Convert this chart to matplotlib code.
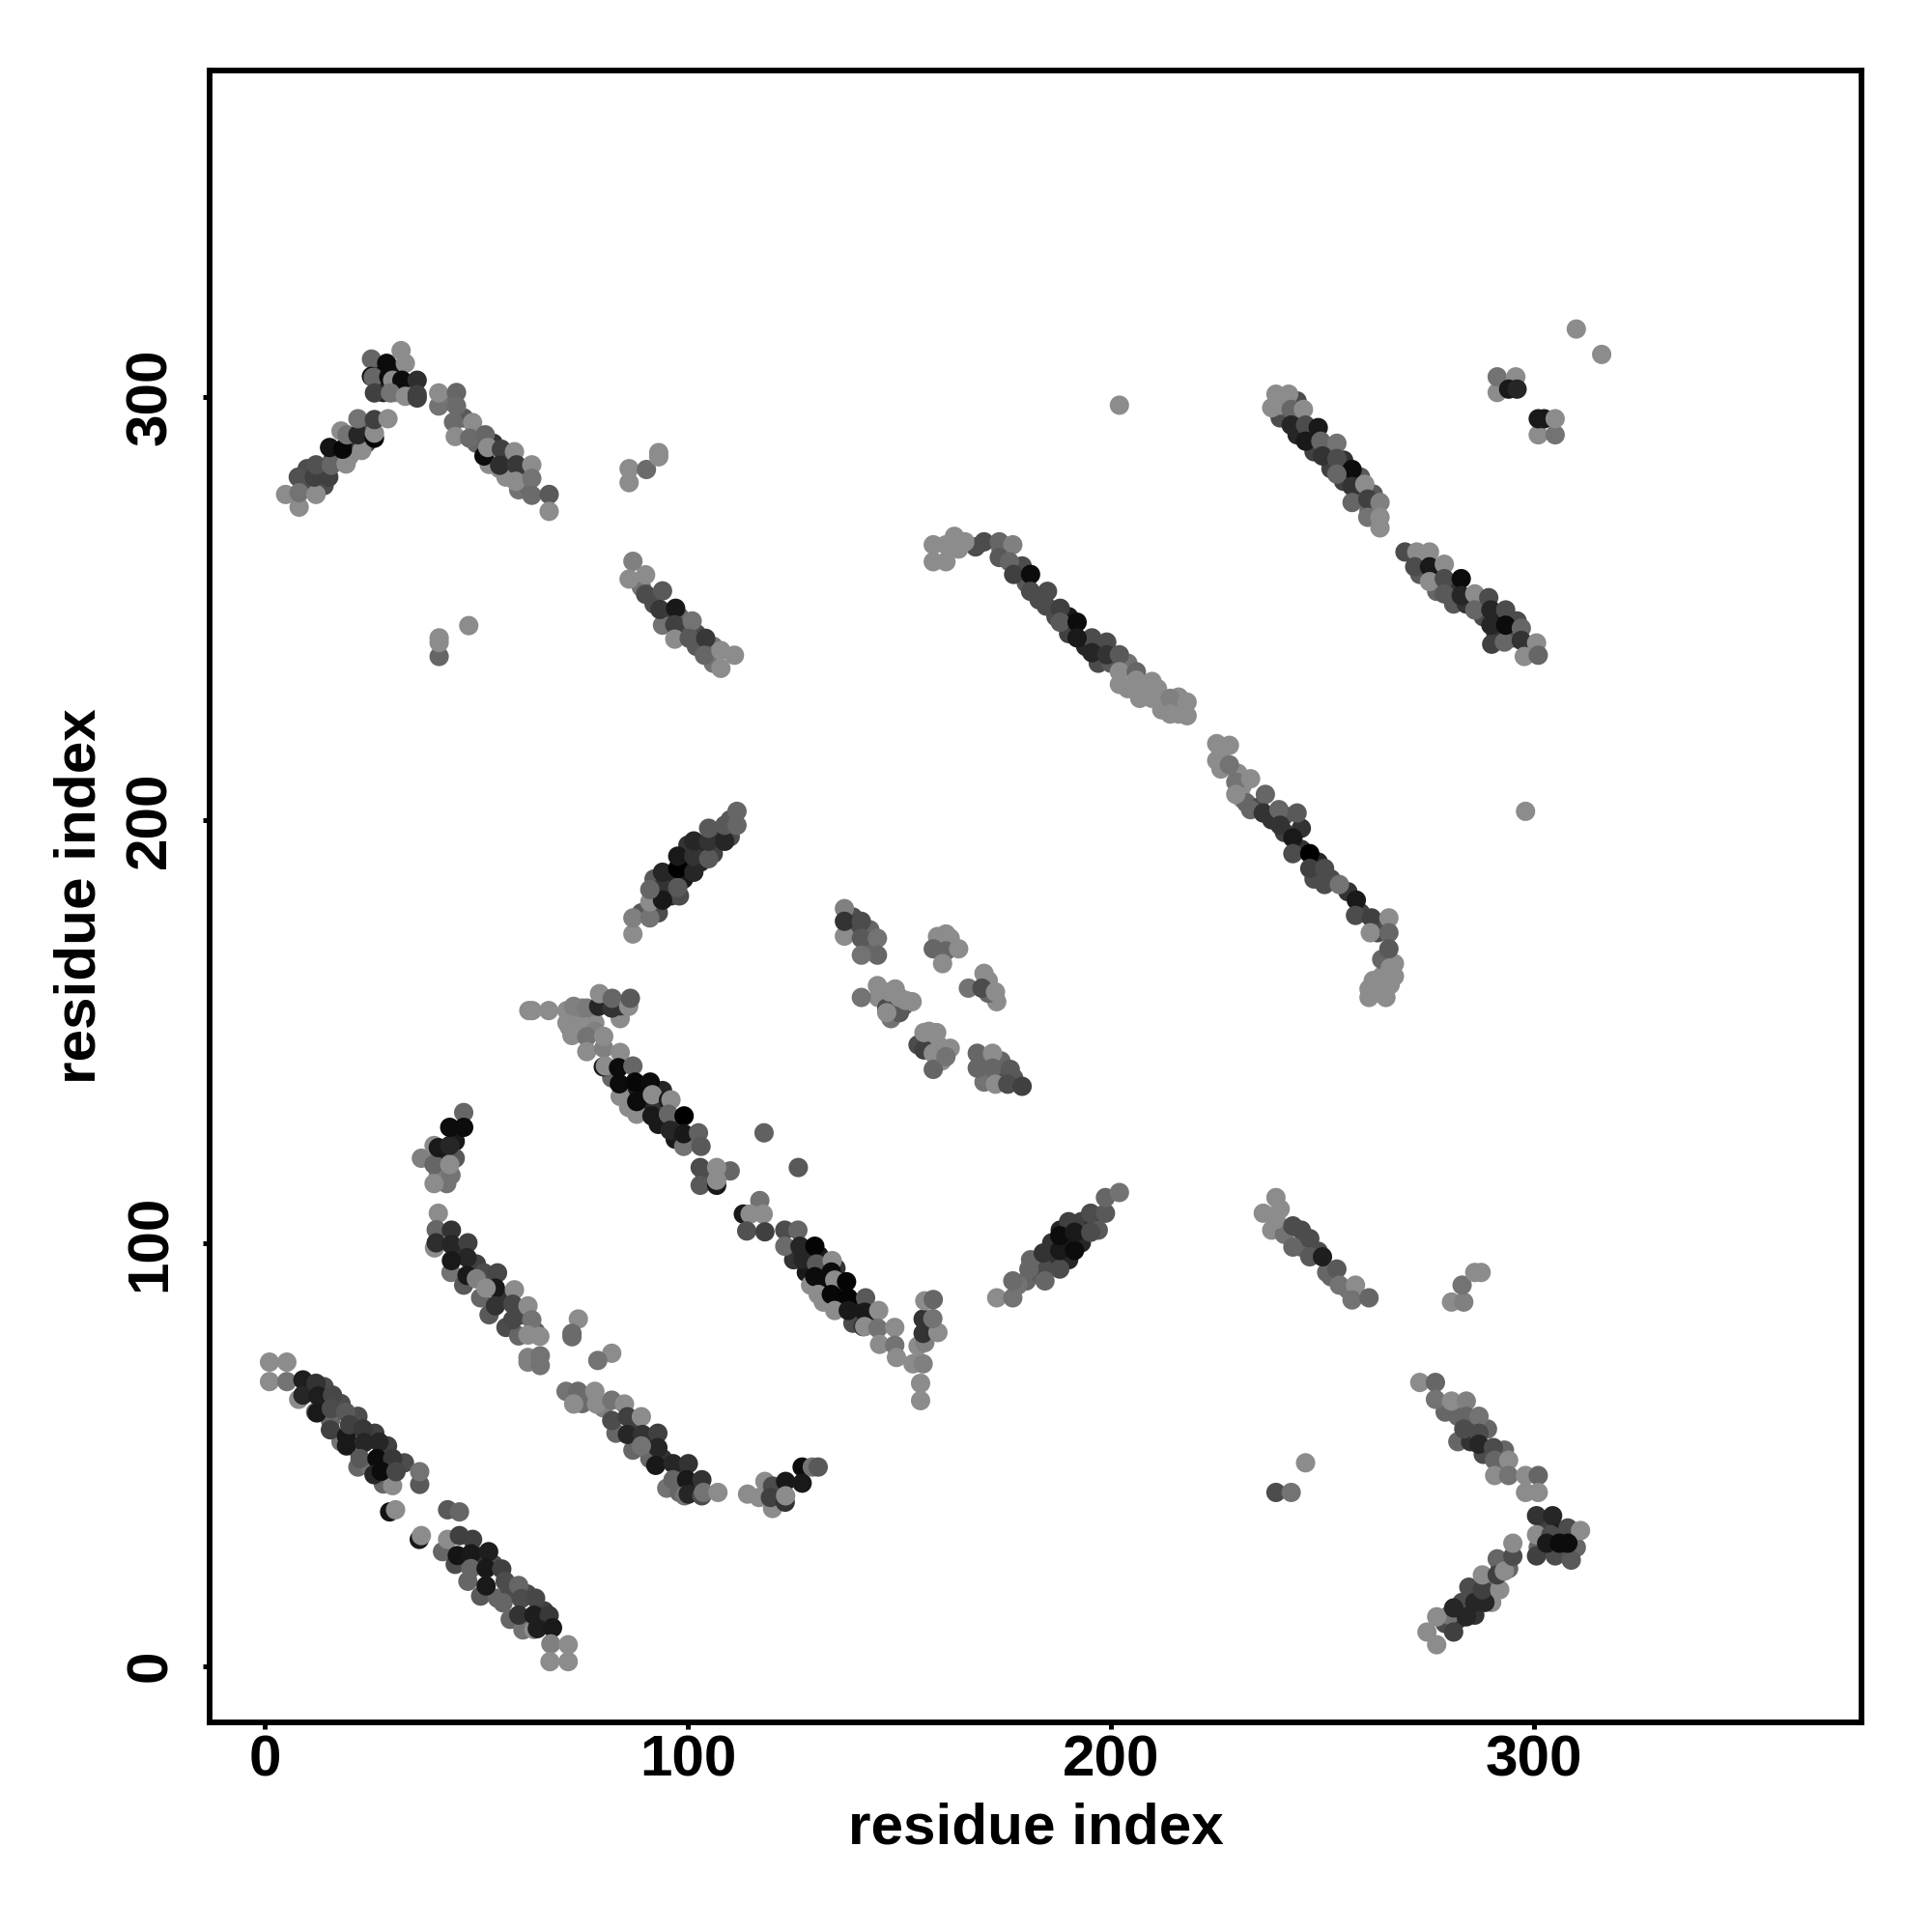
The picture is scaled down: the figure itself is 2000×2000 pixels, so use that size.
"""
Contact map, residue index against residue index
grey level of a point = strength of the contact
"""
import matplotlib
matplotlib.use("Agg")
import matplotlib.pyplot as plt
import numpy as np

L = 0.55  # the light grey that most band edges have

# every list holds (residue x, residue y, grey)
band_a = [(1.1,71.8,L),(5.2,71.8,L),(1.1,67.2,L),(5.2,67.2,.45),(8,63,L),(9,67.6,.12),(9,64,.15),(12.1,66.8,.2),
          (12.6,63.8,.12),(12.3,59.8,.1),(16,64,.28),(15.7,60.8,.3),(19.1,60,.35),(15.5,55.8,.25),(19.3,52,.1),
          (19.3,54.3,.1),(20,57,.25),(23.2,56,.22),(23.5,52.8,.15),(27,52.9,.15),(22.5,49,.35),(26.5,49,.05),
          (30.2,49,.22),(30.2,42.6,L),(25.8,45.2,.15),(27.5,46,.05),(31,45.9,.28),(36.6,42.9,.35),(36.6,45.9,.45),
          (29.5,36.4,.08),(30.9,36.9,L),(43.2,36.9,.35),(46,36.4,.4),(36.5,29.9,.1),(37,30.8,L),(43.2,29.9,L),
          (46,30.8,.25),(49.1,29.9,.25),(45.5,26.1,.08),(48.7,26.5,.1),(52.9,27,.12),(48.7,23,.4),(52.3,23,.1),
          (56,22.9,.25),(52.3,18.9,.1),(56.8,20,.3),(60,19,.4),(56.3,14.9,.4),(60.6,15.9,.3),(64,16,.28),(60,12,.2),
          (63.6,8.6,L),(63.6,12,.12),(67.2,11.9,.22),(64.4,8.8,.12),(68,9,.1),(67.6,5.2,.5),(71.7,5,L),(67.4,1,L),(71.7,1,L)]
fill_a = [(12,60,.45),(15.5,58,.4),(18,53,.45),(22,51,.45),(22,47,.4),(25,47,.45),(28,43,.4),(14,66,.3),(18,62,.3),
          (22,59,.3),(26,55,.25),(29,52,.25),(33,48,.3),(42,27,.4),(45,24,.3),(48,20,.4),(51,16.5,.35),(55,16,.4),
          (58,11,.4),(61,8.5,.45),(50,26,.2),(54,24,.3),(58,18,.3),(62,17,.3),(66,13,.25)]

band_b = [(41,107,L),(40.1,98.8,L),(40.5,103.1,.4),(44.1,103,.2),(40.5,100,.18),(44.1,99.6,.15),(48,100,.25),
          (47.8,96.5,.15),(44.1,95.8,.1),(47.8,92.3,.1),(51.8,92.9,.3),(55,92.9,.28),(50,91.5,.5),(54.5,89.3,.1),
          (59,88.9,L),(52.3,89.3,L),(54.5,85.1,.2),(58.6,85.5,.28),(62.2,85.1,L),(58.6,81.8,.28),(63.1,81.8,.45),
          (62.2,78.2,L),(65,77.9,L),(62.2,72.9,.5),(62.2,71.8,.5),(65.1,73.3,.45),(65.1,71,.45),
          (74.1,82,L),(72.6,78.6,.42),(72.6,77.8,.42),(82,73.9,L),(78.7,72.2,.45)]
fill_b = [(44,93,.45),(47,90,.35),(51,87,.4),(53,83,.35),(57,80,.3),(60,78,.4),(46,98,.2),(50,95,.25),(53,91,.2),
          (57,87,.2),(61,83,.3),(64,79,.35)]

band_c = [(71.2,64.9,.45),(74,64.9,.42),(73,61.9,L),(78,64.9,L),(78.4,61.9,L),(82,62.8,.45),(85,61.9,L),(82,58,.3),
          (85.7,58.9,.25),(89,58.9,L),(85.7,54.7,.15),(89.3,54.7,.2),(92.9,55,.25),(92.9,51.6,.15),(89,52,.45),
          (92.4,47.4,.1),(96.5,47.8,.15),(100.1,47.8,.2),(96.5,44,.4),(99.7,44,.1),(103.3,44,.2),(99.2,40.2,.45),
          (100.1,40.6,.15),(103.3,40.2,.3),(103.7,41,.45),(107.1,41,L)]
fill_c = [(83,55,.4),(87,51,.4),(91,49,.4),(95,42,.45),(98,41,.4),(87,57,.25),(91,53,.2),(94,49,.2),(98,46,.2),
          (102,42,.25),(75,62,.42),(80,61,.5)]

band_d = [(114.1,40.6,L),(118.2,43.6,L),(116.8,39.8,L),(120,37.2,L),(120,42.5,.3),(119.5,39.8,.25),(123.1,43.6,.1),
          (123,38.7,.2),(123.1,40.2,L),(127,47,.05),(127,43.2,.1),(129.4,47,.45),(130.8,47,.35)]

band_e = [(62.4,154.9,L),(63.2,154.9,L),(67.1,154.9,L),(71.4,154.9,L),(71.4,152,L),(73,155.9,.5),(75,155.5,.5),
          (76.1,155.5,.48),(72.6,149,L),(76.1,148.7,.45),(76.1,145.2,L),(80.1,146,.5),(80.1,148.8,L),(78.9,155.9,.15),
          (79.1,158.9,L),(82,155.5,.2),(82.1,157.8,.4),(86,155.9,L),(86.4,157.8,.35),(84,145,L),(80,141.6,.1),
          (80.5,141.8,L),(83.6,141.4,.05),(87,141.8,.4),(84,134.6,L),(83.8,137.6,.05),(87.9,130.4,L),(87.5,138,.03),
          (91.1,138,.05),(87.9,133.4,.05),(91.5,130,.1),(91.6,135,L),(95.4,133.8,.1),(96,133.8,L),(95.4,130.4,.4),
          (95.8,126.6,.15),(99,122.8,.45),(99.1,130,0),(99,125.8,.1),(102.5,126,.38),(103.1,122.8,.35),(102.9,117.8,.3),
          (110,117,.4),(102.9,113.6,.35),(106.8,113.6,.1),(106.8,114.8,L),(106.8,117.8,L),(118,126,.38),(126.1,117.8,.35),
          (117,110,.45),(113.1,106.8,.1),(114.7,106.8,L),(117.8,106.8,L),(113.9,102.8,.32),(118.2,102.6,.25),
          (122.9,103,.3),(126,103,.4),(122.9,99.2,.42),(126.5,99.2,.15),(127.2,96.1,.15),(130,99.2,.02),(130.4,95,.35),
          (134.1,95.8,L),(130,92,.05),(133.9,93.1,.05),(130.8,87.8,L),(134.7,91.2,L),(137.5,90.8,.02),(133.9,87.8,.03),
          (137.9,87,.02),(134.7,84,L),(137.9,84,.1),(142,87,.35),(141.8,83.6,.1),(145.1,84,L),(141.4,80.2,.2),
          (141.8,80.2,L),(144.9,79.8,.45),(148.9,80,L),(145.3,76,L),(148.9,75.8,.45),(149.3,72.9,L),
          (153.2,71.4,L),(155.6,71.4,.5),(154.4,75.6,L),(156,76.4,.5),(155.6,78.6,.2),(159.1,78.8,L),(155.6,82,.2),
          (157.9,82.1,.45),(156,86.3,L),(158,86.6,.4),(155,66.8,L),(155,62.7,L)]
fill_e = [(74,152,L),(72,151,.5),(74,150,L),(78,152,L),(78,150,.5),(84,153,L),(84,156,.2),(82,139,.4),(85,136,L),
          (88,135.5,.1),(90,132,.15),(86,132,L),(93,128,.1),(93,133,.2),(97,128,.2),(101,124,.4),(97,124.5,.1),
          (90,136,.05),(94,136,.15),(105,115,.45),(104,116,.3),(125,96,.2),(128,93,.1),(131,90,.05),(129,90,L),
          (132,86,L),(136,86,.05),(136,89,.1),(135,94,.2),(139,85,.1),(139,81,.3),(143,82,.2),(131,97,.1),(132,94,.2)]

band_f = [(173,87,L),(176.8,87,.45),(176.8,91,.42),(180.6,93.8,.4),(184.4,91,.4),(184,97.6,.2),(187.9,93.8,.3),
          (187.9,98.2,.1),(187.9,101.7,.05),(191.4,98.2,.05),(191.4,102.5,.1),(195.2,102.5,.3),(195.2,107,.3),
          (198.7,107,.35),(198.7,110.7,.4),(202,111.9,.45)]
fill_f = [(180,91,.4),(183,93,.35),(186,96,.2),(189,99,.1),(190,96,.15),(184,94,.3),(193,100,.15),(193,105,.25),
          (186,100,.2),(188,103,.15),(196,105,.2),(181,96,.4),(178,90,.45),(190,105,.25),(197,103,.35)]

band_g = [(236,107,L),(239,110.7,L),(239,105.5,L),(243,104,.3),(243,99,.4),(247,101,.3),(247,96.7,.35),(250,96.7,.12),
          (253.4,93.8,.35),(254,90,.45),(257.8,90,L),(257,86.5,.45),(261,87,.4),
          (280.5,86,L),(283.4,86,.5),(283,90,.45),(286,93,L),(287.5,93,L)]
fill_g = [(240,108,L),(238,103,L),(241,102,.45),(245,99,.4),(249,98,.3),(251,93,.4),(245,103,.3),(256,89,.45),(252,92,.4)]

band_h = [(273,67,L),(276.7,67,.4),(276.7,63,.45),(280.5,62.6,L),(284,62.6,.5),(284,59,.4),(283.4,56,.3),(287,59,.45),
          (287,55,.3),(287,52.4,.15),(290.4,51.6,.3),(290.7,48.6,.4),(294,48.6,L),(290.7,45,L),(294,45,.45),(298,45,L),
          (301,45,.4),(298,41,L),(301,41,L),(300.6,35.5,.2),(304.4,35.5,.15),(300.6,31,L),(304,31,.3),(308,32.6,.3),
          (311,32,L),(300.6,26,.25),(305,26,.3),(308.8,25,.35),(303,29,.1),(306,29,.05),(308,29,.05),
          (274.7,8,L),(277,5,L),(277,11.6,L),(281,8,.25),(281,13.7,.15),(284,11.6,.15),(284.6,18.6,.3),(286,15,.15),
          (288.4,15,.15),(287.8,18,.25),(287.8,21.5,L),(291.9,18,L),(291.3,25.3,.4),(291.3,21.5,.25),(293,22.4,L),
          (295,25.9,.3),(295,29,L),(239,41,.3),(242.6,41,.45),(246,48,L)]
fill_h = [(279,60,.4),(282,59,.4),(285,56,.3),(282,53,.4),(285,53,.2),(288,50,.3),(292,47,.4),(289,56,.4),(293,51,.4),
          (303,33,.25),(302,28,.3),(306,32,.1),(304,28,.05),(310,28,.4),(307,27,.2),(301,28,.4),(279,10,.3),(282,11,.2),
          (284,14,.2),(283,15,.3),(286,18,.25),(289,20,.4),(290,15,L),(292,23,.3),(280,12,.45),(286,12,.2),(294,23,.4)]

band_i = [(4.9,276.9,L),(8.1,273.9,L),(7.9,281,.32),(8.1,277.3,.45),(12.1,276.9,L),(11.7,281,.25),(15.1,281,.25),
          (12.1,283.9,.32),(15.7,283.8,.4),(19.2,284.1,L),(15.3,288,.08),(18.4,287.6,.03),(22.9,287.3,L),(18,291.9,L),
          (19.4,291,.45),(22,291,.15),(25.9,290.2,.02),(25.9,291.4,L),(22,294.8,.45),(25.9,294.6,.25),(29.1,294.8,L),
          (25.2,308.9,.4),(28.8,307.9,.05),(32.2,310.9,L),(33.2,307.9,L),(25.2,304.8,.05),(25.6,304.6,.4),(29.3,304.7,.05),
          (30.2,303.9,L),(32.4,303.9,.05),(36,303.9,.18),(25.9,300.9,.25),(29.7,300.9,.45),(33.2,300.1,L),(36,300.5,.25),
          (36,299.7,.25),(41.1,297.8,.45),(41.1,300.9,L),(45.3,301,.4),(45.3,297.8,.42),(44.6,294,.42),(49.1,293.9,L),
          (45,290.6,L),(48.4,290.2,.42),(52.1,291,.4),(51.8,286,.05),(52.7,288,L),(55.9,287.6,.25),(59,287,L),
          (55.5,283,L),(55.5,283.8,.18),(59.5,283.9,.22),(63.1,283.9,L),(59.3,280,L),(63.1,280.7,.45),(63.1,276.7,.42),
          (67.2,276.9,.35),(67.2,272.9,L),(86.1,283,L),(86.1,279.7,L),(90.2,282.8,.42),(93.1,285.8,L),(93.1,286.8,L)]
fill_i = [(10,279,.3),(13,282,.25),(10,283,.3),(16,285,.3),(20,289,.2),(17,286,.35),(24,289,.3),(20,286,L),(24,293,.3),
          (14,279,.3),(27,303,.2),(28,301,.15),(31,306,.1),(34,302,.4),(31,301,L),(27,307,.15),(47,295,.35),(50,289,.4),
          (54,289,.2),(57,285,.3),(53,284,L),(61,282,.25),(57,281,L),(60,278,.45),(43,299,.45),(62,279,.42)]

band_j = [(48.2,245.9,L),(41.2,238.6,.4),(41.2,241.9,L),(41.2,243,L),(87,261.1,.5),(86.1,256.9,L),(90,253.3,.3),
          (90,257.9,L),(94,254.1,.35),(93.4,249.7,.22),(97.1,250,.1),(96.9,246.1,.25),(101,247,.45),(96.9,242.7,L),
          (100.3,242.9,.35),(104.2,242.9,.22),(103.9,238.9,.4),(107.8,240,L),(111,238.9,L),(107.8,235.8,L)]
fill_j = [(92,251,.3),(95,248,.25),(99,245,.35),(102,241,.35),(106,237,.45),(89,255,.45),(94,246,.45),(98,248,.4),
          (102,244,.3),(106,241,.45)]

band_k = [(158,261,L),(158,265,L),(161,265,L),(161,261,L),(163,267,L),(165.5,265.7,L),(170,265.7,.3),(173.6,265.7,.4),
          (176.8,265,.5),(173.6,262,.35),(176,261,.4),(177,258,.25),(181,258,.05),(181,254,.3),(185,254,.3),
          (184.7,250.5,.3),(188,250,.25),(188,246.7,.35),(192,246.7,.05),(195.5,243,.3),(192,243,.1),(199,242,.3),
          (195.5,239.5,.15),(199,239,.2),(202,239,.35),(202,235,L),(206,235,.4),(202,232,L),(206,233,L),(209.7,232.7,L),
          (206.8,228.7,L),(209.7,228.7,L),(214,228.7,.5),(214,225,L),(218,227.8,L),(218,224.6,L),
          (225,218,L),(225,214,L),(228,217.6,L),(228,213,.45),(229.5,208.9,.45),(233,209.7,L),(229.5,206,L),(233,202.4,.4),
          (236.5,206,.4),(236,201.6,.2),(239.7,202.4,.4),(240,198.7,.2),(244,201.6,.35),(243,195.7,.1),(243,192,.3),
          (247,192,0),(247,188.5,.25),(250.5,188.5,.3),(250.5,184.7,.3),(254,184.7,.45),(258,181,.1),(257.8,177.4,.3),
          (261.6,176.8,.25),(263,173.3,.3),(261.3,173.3,L),(265.7,176.8,L),(265.7,173.3,.4),(265.7,169.5,.35),(266,165,L),
          (267,163,L),(265,160,L),(261,160,L),(261,158,L),(265,158,L)]
fill_k = [(179,260,.3),(183,252,.3),(180,256,.35),(187,248,.3),(190,248,.1),(190,244,.25),(194,241,.15),(197,241,.15),
          (197,237,.3),(200,237,.35),(204,237,.45),(204,231,L),(208,230,L),(212,226,L),(216,225,L),(216,229,L),(211,231,L),
          (226,216,L),(226,212,L),(230,211,L),(231,205,L),(231,208,L),(232,204,.4),(235,203,.3),(238,200,.2),(241,197,.25),
          (241,201,.35),(245,193,.2),(245,198,.2),(248,186,.3),(252,186,.3),(249,190,.15),(256,183,.2),(259,178,.25),
          (263,175,.3),(168,264.5,.3),(174,264,.4),(164,264,L),(262,162,L),(264,163,L),(266,161,L),(267,166,L),(264,167,.4)]

band_l = [(239,300.6,L),(242,300.6,L),(238,297.4,L),(242.6,297,.4),(245.5,297,L),(242.6,293.3,.15),(246,293.3,.3),
          (249,292.7,.1),(246,289.5,.1),(249.6,289.5,.4),(253.4,289,.45),(250,286,.2),(253.4,285.4,.3),(257,282.8,.05),
          (253.4,281.7,.4),(257,278.8,.2),(260,279.3,L),(257,275,.4),(260.7,275.8,.25),(263.6,275,.5),(260.7,271.5,.45),
          (263.6,271.5,L),(263.6,269,L)]
fill_l = [(240,295,.3),(244,295,.25),(244,291,.15),(248,291,.2),(248,287,.25),(252,288,.4),(252,283,.25),(255,285,.2),
          (255,280,.25),(259,281,.35),(258,276,.3),(262,277,.35),(261,273,.4),(240,298,L),(244,299,.3)]

band_m = [(269.5,263.3,.3),(272.3,263.3,L),(275.3,263.3,L),(271.8,259.8,.3),(275.3,259.8,.1),(278.8,260.4,L),
          (275.3,256.3,L),(278.8,257,.3),(282.8,257,.05),(278.8,253.4,.35),(282.8,253,.15),(286,253.4,L),(286,249.6,.4),
          (289.3,252.5,.3),(289.8,249.6,.15),(289.8,246,.15),(293.3,249.6,.3),(293.3,246,.05),(297,245.3,.4),
          (297,242.4,.2),(300.6,241.8,L),(297.7,238.6,L),(301,238.9,.4)]
fill_m = [(273,258,.35),(277,258,.2),(277,254,.4),(281,255,.2),(281,251,.35),(284,251,.2),(288,248,.3),(291,244,.2),
          (292,248,.1),(295,243,.3),(296,247,.3),(299,240,.4),(287,251,.25),(290,241.5,.25),(293,242,.4)]

band_n = [(87,173,L),(87,176.8,.5),(91,176.8,.45),(91,180.6,L),(94,181,.1),(91,183.5,.4),(94,187.6,.15),(97.6,184,.35),
          (97.6,188.5,0),(97.6,191.4,.1),(101.4,187.6,.15),(101.4,191.4,.2),(101.4,195,.15),(104.9,190.8,.35),
          (104.9,194.9,.2),(104.9,198,.35),(108.7,194.9,.15),(108.7,198.7,.35),(111.6,198.7,.4),(111.6,202,.4)]
fill_n = [(93,178,.3),(89,178,.35),(92,186,.35),(95,185,.15),(94,184,.2),(99,186,.1),(99,190,.05),(103,190,.15),
          (103,193,.15),(100,194,.2),(106,192,.25),(107,197,.25),(110,196,.3),(110,200,.35),(96,182,.2),(106,196,.2),(98,182,.3)]

band_o = [(37,120,.5),(40,123,L),(40,118.5,.4),(40,114,L),(41,122.5,.1),(43.7,123,.15),(43.7,118.5,L),(43.7,127.3,.05),
          (47,130.8,.4),(47,127.3,.05)]
fill_o = [(39,120,.4),(41,116,.5),(42,121,.15),(45,124,.1),(45,120,.35),(43,114,.45),(44,116,.45)]

band_p = [(137,179,.5),(137,172.5,L),(137,176,.2),(141,176,.3),(141,172,.35),(144.8,172,.45),(144.8,168,.4),(141,168,.45),
          (141,158,.45),(147,155.5,.3),(150,154.4,.35),(147,154.4,L),(144.8,160.8,L),(147.7,159.3,L),(150,158,L),(151.5,157.3,L),
          (154.4,146.8,.3),(155.8,145.6,.25),(155.8,149.7,L),(158.8,149.7,L),(158,144.8,L),(161,145.6,L),(158,141,.4),(161,144,.45),
          (159,172.4,L),(161,173,L),(158,169.5,.4),(161,169,.4),(160.2,166,L),(164,169.5,L),
          (166.3,160.2,.45),(170,163.7,L),(169.5,160.2,.3),(172.7,159.3,L),
          (168.4,144.8,.4),(172,144.8,L),(168.4,141.3,.4),(172,141.3,.4),(172.7,137.5,L),(176.2,141,.35),(175.6,137.5,.3),(179,137,.25)]
fill_p = [(138,174,.3),(139,177,.3),(143,170,.4),(143,174,.4),(146,158,.3),(148,156,.25),(149,157,.25),(151,156,.35),
          (145,158,L),(149,160,L),(153,157,L),(148,153,.45),(150,155,L),(156,147,.3),(157,146,.25),(159,147,L),(160,143,L),
          (162,146,L),(155,147,L),(157,150,L),(159,170,.4),(162,172,L),(171,162,L),(173,157,L),(171,159,.4),(170,142,.4),
          (174,143,.4),(170,138,.45),(174,139,.3),(177,139,.35)]

singles = [(310,316,L),(316,310,L),(202,298,L),(298,202,L),(291.3,301,L),(291.3,304.7,.45),(295.7,304.7,L),(294,301.8,.1),
           (296,301.8,.15),(301,291,L),(305,291,.45),(301,294.8,.1),(302.4,294.8,.1),(305,294.8,L)]

bands = [fill_a, band_a, fill_b, band_b, fill_c, band_c, band_d, fill_e, band_e, fill_f, band_f, fill_g, band_g,
         fill_h, band_h, fill_i, band_i, fill_j, band_j, fill_k, band_k, fill_l, band_l, fill_m, band_m,
         fill_n, band_n, fill_o, band_o, fill_p, band_p, singles]
ticks = [0, 100, 200, 300]

plt.rcParams['font.family'] = ['Liberation Sans', 'DejaVu Sans']
plt.rcParams['font.weight'] = 'bold'

fig = plt.figure(figsize=(10, 10), dpi=200)
ax = fig.add_axes([0.1084, 0.1084, 0.8553, 0.8553])

for b in bands:
    arr = np.array(b)
    ax.scatter(arr[:, 0], arr[:, 1], c=arr[:, 2], cmap='gray', vmin=0, vmax=1,
               s=52, linewidths=0, zorder=3)

ax.set_xlim(-13.1, 377.5)
ax.set_ylim(-13.4, 377.2)
ax.set_xticks(ticks)
ax.set_yticks(ticks)
ax.tick_params(axis='x', length=2.4, width=1.8, labelsize=21.7, pad=2)
ax.tick_params(axis='y', length=2.4, width=1.8, labelsize=21.7, pad=9.5)
plt.setp(ax.get_yticklabels(), rotation=90, va='center')
for s in ax.spines.values():
    s.set_linewidth(2.1)

ax.set_xlabel('residue index', fontsize=21.7, fontweight='bold', labelpad=5.5)
ax.set_ylabel('residue index', fontsize=21.7, fontweight='bold', labelpad=6.5)

fig.savefig('out.png', dpi=200)
